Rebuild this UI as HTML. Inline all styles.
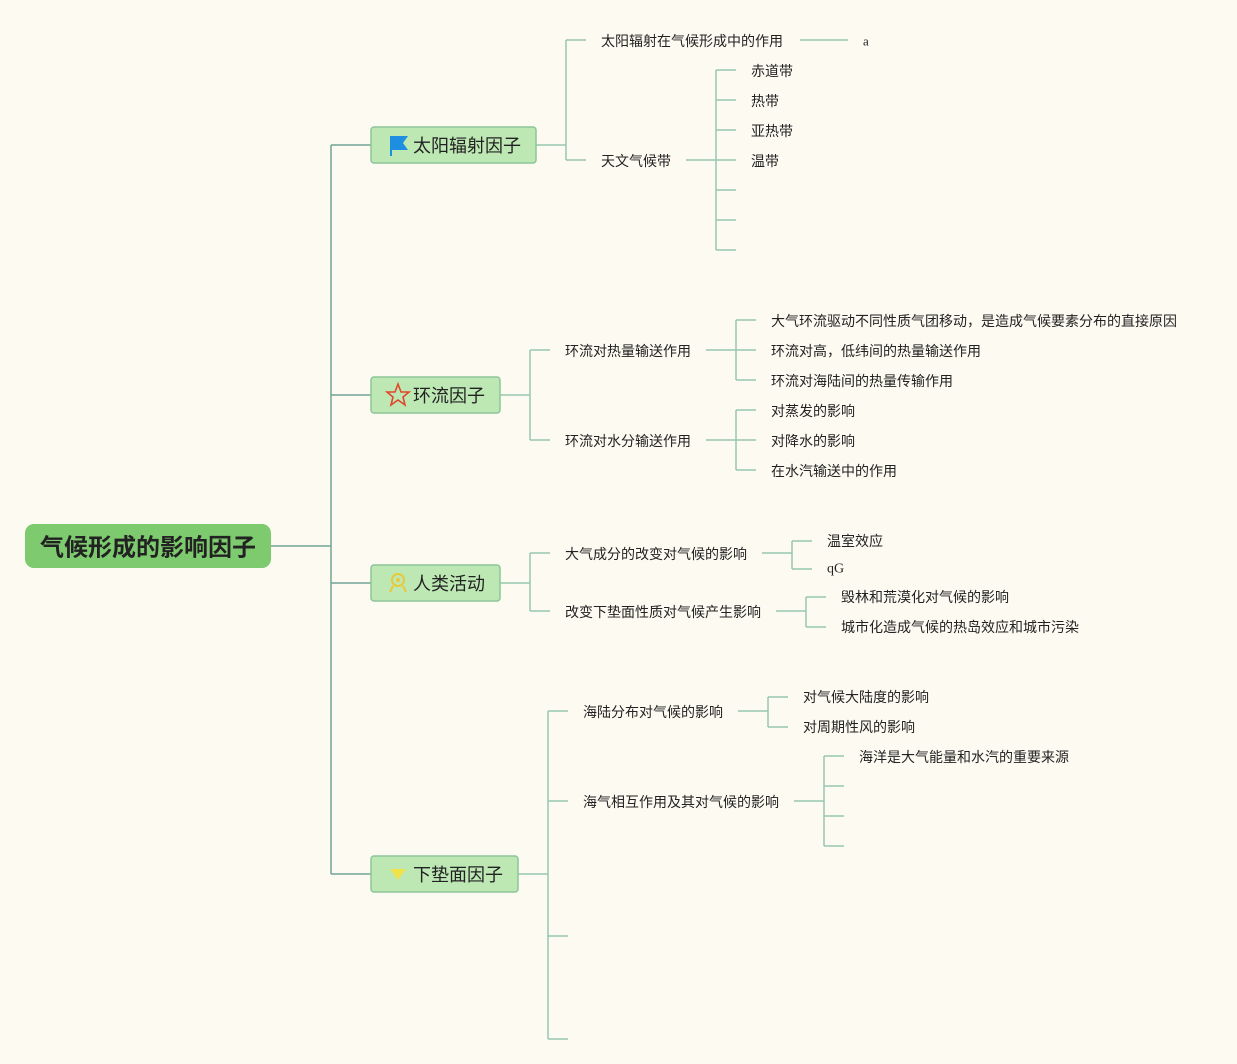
<!DOCTYPE html>
<html><head><meta charset="utf-8"><style>
html,body{margin:0;padding:0;background:#fdfbf1;}
svg{display:block;}
text{font-family:"Liberation Sans","Noto Sans CJK SC",sans-serif;fill:#222;}
.s{font-size:14px;dominant-baseline:central;}
.b{font-size:18px;dominant-baseline:central;}
</style></head><body>
<svg width="1237" height="1064" viewBox="0 0 1237 1064" xmlns="http://www.w3.org/2000/svg">
<rect width="1237" height="1064" fill="#fdfbf1"/>
<g fill="none" stroke="#98c7b0" stroke-width="1.5">
<!-- main -->
<path d="M271 546H331M331 145V874M331 145H371M331 395H371M331 583H371M331 874H371" stroke="#72a597"/>
<!-- b1 -->
<path d="M536 145H566M566 40V160M566 40H586M566 160H586M800 40H848"/>
<path d="M686 160H716M716 70V250M716 70H736M716 100H736M716 130H736M716 160H736M716 190H736M716 220H736M716 250H736"/>
<!-- b2 -->
<path d="M500 395H530M530 350V440M530 350H550M530 440H550"/>
<path d="M706 350H736M736 320V380M736 320H756M736 350H756M736 380H756"/>
<path d="M706 440H736M736 410V470M736 410H756M736 440H756M736 470H756"/>
<!-- b3 -->
<path d="M500 583H530M530 553V611M530 553H550M530 611H550"/>
<path d="M762 553H792M792 541V569M792 541H812M792 569H812"/>
<path d="M776 611H806M806 597V627M806 597H826M806 627H826"/>
<!-- b4 -->
<path d="M518 874H548M548 711V1039M548 711H568M548 801H568M548 936H568M548 1039H568"/>
<path d="M738 711H768M768 697V727M768 697H788M768 727H788"/>
<path d="M794 801H824M824 756V846M824 756H844M824 786H844M824 816H844M824 846H844"/>
</g>
<!-- root -->
<rect x="25" y="524" width="246" height="44" rx="9" fill="#7dcb6e"/>
<text x="148" y="548" text-anchor="middle" style="font-size:24px;font-weight:bold;dominant-baseline:central;">气候形成的影响因子</text>
<!-- boxes -->
<g fill="#bde8b4" stroke="#8cc59a" stroke-width="1.5">
<rect x="371" y="127" width="165" height="36" rx="3"/>
<rect x="371" y="377" width="129" height="36" rx="3"/>
<rect x="371" y="565" width="129" height="36" rx="3"/>
<rect x="371" y="856" width="147" height="36" rx="3"/>
</g>
<!-- icons -->
<path d="M390 136H408L403 143L408 150H392V156H390Z" fill="#1e8fe0"/>
<polygon points="398,384 401,392 409,392 403,397 405,405 398,400 391,405 393,397 387,392 395,392" fill="none" stroke="#e0482c" stroke-width="1.6"/>
<circle cx="398" cy="580" r="6" fill="none" stroke="#e8c93a" stroke-width="2"/><circle cx="398" cy="580" r="2" fill="#e8c93a"/><path d="M393 586L390 592M403 586L406 592" stroke="#e8c93a" stroke-width="2"/>
<path d="M390 869H406L398 880Z" fill="#f0e24a"/>
<text class="b" x="413" y="146">太阳辐射因子</text>
<text class="b" x="413" y="396">环流因子</text>
<text class="b" x="413" y="584">人类活动</text>
<text class="b" x="413" y="875">下垫面因子</text>
<!-- texts -->
<text class="s" x="601" y="41">太阳辐射在气候形成中的作用</text>
<text class="s" x="863" y="41" style="font-family:'Liberation Serif',serif;font-size:13px">a</text>
<text class="s" x="601" y="161">天文气候带</text>
<text class="s" x="751" y="71">赤道带</text>
<text class="s" x="751" y="101">热带</text>
<text class="s" x="751" y="131">亚热带</text>
<text class="s" x="751" y="161">温带</text>
<text class="s" x="565" y="351">环流对热量输送作用</text>
<text class="s" x="565" y="441">环流对水分输送作用</text>
<text class="s" x="771" y="321">大气环流驱动不同性质气团移动，是造成气候要素分布的直接原因</text>
<text class="s" x="771" y="351">环流对高，低纬间的热量输送作用</text>
<text class="s" x="771" y="381">环流对海陆间的热量传输作用</text>
<text class="s" x="771" y="411">对蒸发的影响</text>
<text class="s" x="771" y="441">对降水的影响</text>
<text class="s" x="771" y="471">在水汽输送中的作用</text>
<text class="s" x="565" y="554">大气成分的改变对气候的影响</text>
<text class="s" x="565" y="612">改变下垫面性质对气候产生影响</text>
<text class="s" x="827" y="541">温室效应</text>
<text class="s" x="827" y="569" style="font-family:'Liberation Serif',serif">qG</text>
<text class="s" x="841" y="597">毁林和荒漠化对气候的影响</text>
<text class="s" x="841" y="627">城市化造成气候的热岛效应和城市污染</text>
<text class="s" x="583" y="712">海陆分布对气候的影响</text>
<text class="s" x="583" y="802">海气相互作用及其对气候的影响</text>
<text class="s" x="803" y="697">对气候大陆度的影响</text>
<text class="s" x="803" y="727">对周期性风的影响</text>
<text class="s" x="859" y="757">海洋是大气能量和水汽的重要来源</text>
</svg>
</body></html>
